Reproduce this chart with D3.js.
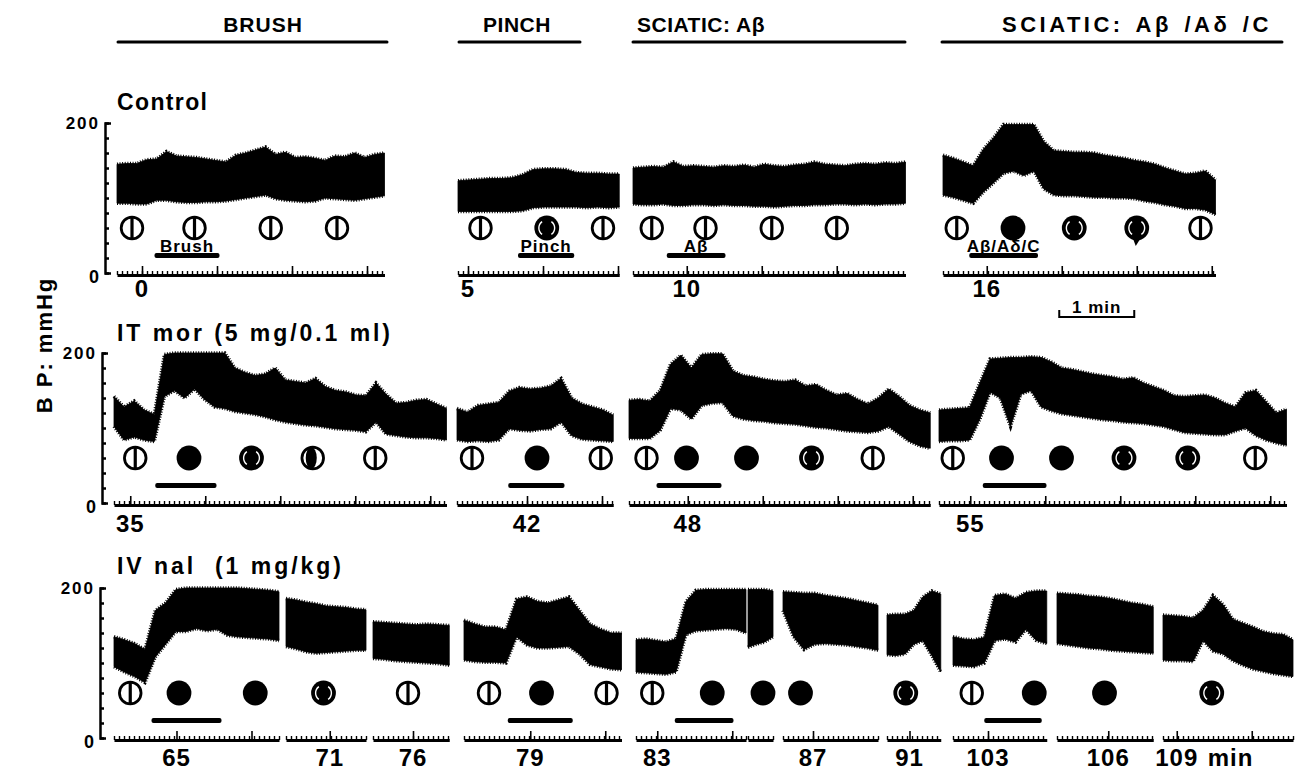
<!DOCTYPE html>
<html>
<head>
<meta charset="utf-8">
<script src="https://cdn.jsdelivr.net/npm/d3@7"></script>
<style>
  body { margin: 0; background: #fff; }
  text { font-family: "Liberation Sans", Arial, sans-serif; font-weight: bold; fill: #000; }
</style>
</head>
<body>
<div id="chart"></div>
<script>
// ---- data (BP in mmHg, times in s from segment start) ----
const sectionTitles = ["BRUSH", "PINCH", "SCIATIC: Aβ", "SCIATIC: Aβ /Aδ /C"];
const rowTitles = ["Control", "IT mor (5 mg/0.1 ml)", "IV nal  (1 mg/kg)"];
const yTickLabels = ["200", "0"];

// Control
const ctlBrushHi = [145,146,146,151,152,162,156,155,154,152,150,148,157,160,164,168,158,161,154,155,153,150,156,155,160,154,158,160];
const ctlBrushLo = [93,93,92,92,97,97,95,94,94,95,95,96,98,100,102,104,99,97,96,95,96,100,99,98,97,99,101,103];
const ctlPinchHi = [123,124,125,126,126,127,131,138,139,139,138,134,133,133,132,132];
const ctlPinchLo = [82,82,82,82,82,82,83,87,88,88,88,88,87,88,87,88];
const ctlAbHi = [140,141,142,141,148,142,143,142,141,143,142,144,141,145,143,142,144,145,148,145,144,143,145,146,145,147,146,148];
const ctlAbLo = [92,91,91,92,90,90,91,91,90,91,90,90,89,89,88,89,90,90,91,91,92,92,91,92,91,92,92,93];
const ctlAllHi = [157,153,148,143,165,180,198,198,198,198,175,163,162,161,161,160,157,155,153,150,148,145,140,136,132,133,136,124];
const ctlAllLo = [104,101,97,93,108,120,133,136,130,136,112,104,103,103,102,101,101,100,100,99,96,94,91,89,86,86,84,78];

// IT morphine
const morBrushHi = [142,128,136,124,118,198,200,200,200,200,200,200,180,174,170,172,180,164,162,160,166,155,150,148,144,143,160,145,133,134,137,138,132,126];
const morBrushLo = [102,84,88,84,82,142,150,140,152,138,128,126,122,120,118,115,111,108,106,104,103,101,99,98,97,95,108,92,90,88,87,87,86,84];
const morPinchHi = [126,121,130,132,134,149,154,152,153,156,166,140,132,128,124,117];
const morPinchLo = [84,82,83,82,84,99,97,96,98,99,108,90,85,84,83,82];
const morAbHi = [137,138,136,150,185,197,180,198,199,199,176,170,168,165,163,162,164,156,158,150,144,146,138,132,140,152,142,130,124,120];
const morAbLo = [86,86,86,97,126,124,112,130,133,134,116,112,110,109,107,106,105,103,101,100,98,96,95,94,96,102,92,82,76,73];
const morAllHi = [124,125,126,127,160,192,193,194,194,195,194,188,180,178,175,172,170,168,165,167,160,155,150,143,142,143,144,140,133,128,147,150,135,120,125];
const morAllLo = [82,83,83,84,112,148,140,102,145,150,128,123,119,117,115,113,111,110,108,107,106,104,102,98,94,93,92,91,91,96,100,90,84,80,77];

// IV naloxone
const nalBrushHi = [135,131,126,118,170,180,198,200,200,200,200,200,200,199,198,197,195];
const nalBrushLo = [95,88,82,74,108,125,142,142,146,143,145,137,135,134,133,132,130];
const nal71Hi = [186,184,181,179,176,175,174,172,171];
const nal71Lo = [122,119,115,113,114,115,116,117,117];
const nal76Hi = [155,154,153,152,151,152,151,150];
const nal76Lo = [106,105,103,102,101,100,99,97];
const nalPinchHi = [157,152,148,148,144,185,188,182,180,184,188,170,152,145,140,140];
const nalPinchLo = [104,102,101,101,100,135,124,120,120,121,122,112,98,95,92,91];
const nal83Hi = [131,132,130,128,132,182,197,198,198,198,198,198];
const nal83Lo = [88,87,86,85,88,138,143,144,145,146,145,140];
const nal83bHi = [198,198,198,196];
const nal83bLo = [121,125,128,135];
const nal87Hi = [195,194,193,193,190,188,186,183,180,177];
const nal87Lo = [170,135,118,125,126,125,124,122,120,117];
const nal91Hi = [164,165,165,170,188,196,192];
const nal91Lo = [111,110,112,125,130,110,88];
const nal103Hi = [135,132,131,134,190,192,186,194,196,196];
const nal103Lo = [97,96,95,100,130,132,128,145,130,126];
const nal106Hi = [193,192,191,189,188,186,183,180,178,175];
const nal106Lo = [126,124,122,120,119,117,116,115,114,113];
const nal109Hi = [164,163,162,160,170,190,178,158,153,148,142,139,138,131];
const nal109Lo = [104,103,103,102,130,116,112,103,97,92,89,86,84,82];

// pupil state at time t: o = constricted (slit), f = dilated, p = mostly dilated, h = half, t = mostly (tear)
const ctlBrushPupils = [[12,"o"],[62,"o"],[123,"o"],[176,"o"]];
const ctlPinchPupils = [[18,"o"],[71,"p"],[116,"o"]];
const ctlAbPupils = [[15,"o"],[58,"o"],[111,"o"],[163,"o"]];
const ctlAllPupils = [[11,"o"],[56,"f"],[105,"p"],[155,"t"],[206,"o"]];
const morBrushPupils = [[17,"o"],[60,"f"],[110,"p"],[159,"h"],[209,"o"]];
const morPinchPupils = [[12,"o"],[64,"f"],[115,"o"]];
const morAbPupils = [[14,"o"],[46,"f"],[94,"f"],[146,"p"],[195,"o"]];
const morAllPupils = [[11,"o"],[50,"f"],[98,"f"],[148,"p"],[199,"p"],[253,"o"]];
const nalBrushPupils = [[13,"o"],[52,"f"],[113,"f"]];
const nal71Pupils = [[30,"p"]];
const nal76Pupils = [[28,"o"]];
const nalPinchPupils = [[20,"o"],[62,"f"],[114,"o"]];
const nal83Pupils = [[13,"o"],[61,"f"]];
const nal83bPupils = [[12,"f"]];
const nal87Pupils = [[14,"f"]];
const nal91Pupils = [[15,"p"]];
const nal103Pupils = [[15,"o"],[65,"f"]];
const nal106Pupils = [[38,"f"]];
const nal109Pupils = [[39,"p"]];

// stimulus on/off (s)
const ctlBrushStim = [30, 82], ctlPinchStim = [48, 93], ctlAbStim = [27, 74], ctlAllStim = [21, 76];
const morBrushStim = [33, 82], morPinchStim = [41, 86], morAbStim = [22, 74], morAllStim = [35, 86];
const nalBrushStim = [30, 86], nalPinchStim = [35, 87], nal83Stim = [31, 78], nal103Stim = [25, 71];
const stimNames = ["Brush", "Pinch", "Aβ", "Aβ/Aδ/C"];

// elapsed-minute labels [t, text]
const minuteLabels = {
  ctlBrush: [20, "0"], ctlPinch: [8, "5"], ctlAb: [43, "10"], ctlAll: [35, "16"],
  morBrush: [13, "35"], morPinch: [56, "42"], morAb: [47, "48"], morAll: [25, "55"],
  nalBrush: [50, "65"], nal71: [35, "71"], nal76: [32, "76"], nalPinch: [53, "79"],
  nal83: [17, "83"], nal87: [24, "87"], nal91: [18, "91"], nal103: [28, "103"], nal106: [41, "106"], nal109: [11, "109"]
};

// ---- layout ----
const W = 1298, H = 770;
const PX_PER_S = 1.25;             // 75 px per minute
const rowBase = [273, 503, 738];   // y of 0 mmHg per row
const yAxisX = [105, 102, 100];
const labelBase = [297, 532, 766];

const segs = [
  {row:0, x0:117, dur:214, hi:ctlBrushHi, lo:ctlBrushLo, pupils:ctlBrushPupils, stim:ctlBrushStim, stimName:stimNames[0], lab:minuteLabels.ctlBrush},
  {row:0, x0:458, dur:129, hi:ctlPinchHi, lo:ctlPinchLo, pupils:ctlPinchPupils, stim:ctlPinchStim, stimName:stimNames[1], lab:minuteLabels.ctlPinch},
  {row:0, x0:633, dur:218, hi:ctlAbHi, lo:ctlAbLo, pupils:ctlAbPupils, stim:ctlAbStim, stimName:stimNames[2], lab:minuteLabels.ctlAb},
  {row:0, x0:943, dur:218, hi:ctlAllHi, lo:ctlAllLo, pupils:ctlAllPupils, stim:ctlAllStim, stimName:stimNames[3], lab:minuteLabels.ctlAll, scaleBar:93},
  {row:1, x0:114, dur:266, hi:morBrushHi, lo:morBrushLo, pupils:morBrushPupils, stim:morBrushStim, lab:minuteLabels.morBrush},
  {row:1, x0:457, dur:125, hi:morPinchHi, lo:morPinchLo, pupils:morPinchPupils, stim:morPinchStim, lab:minuteLabels.morPinch},
  {row:1, x0:629, dur:241, hi:morAbHi, lo:morAbLo, pupils:morAbPupils, stim:morAbStim, lab:minuteLabels.morAb},
  {row:1, x0:939, dur:278, hi:morAllHi, lo:morAllLo, pupils:morAllPupils, stim:morAllStim, lab:minuteLabels.morAll},
  {row:2, x0:114, dur:132, hi:nalBrushHi, lo:nalBrushLo, pupils:nalBrushPupils, stim:nalBrushStim, lab:minuteLabels.nalBrush},
  {row:2, x0:286, dur:64, hi:nal71Hi, lo:nal71Lo, pupils:nal71Pupils, lab:minuteLabels.nal71},
  {row:2, x0:373, dur:61, hi:nal76Hi, lo:nal76Lo, pupils:nal76Pupils, lab:minuteLabels.nal76},
  {row:2, x0:464, dur:126, hi:nalPinchHi, lo:nalPinchLo, pupils:nalPinchPupils, stim:nalPinchStim, lab:minuteLabels.nalPinch},
  {row:2, x0:636, dur:88, hi:nal83Hi, lo:nal83Lo, pupils:nal83Pupils, stim:nal83Stim, lab:minuteLabels.nal83},
  {row:2, x0:748, dur:20, hi:nal83bHi, lo:nal83bLo, pupils:nal83bPupils},
  {row:2, x0:783, dur:76, hi:nal87Hi, lo:nal87Lo, pupils:nal87Pupils, lab:minuteLabels.nal87},
  {row:2, x0:887, dur:43, hi:nal91Hi, lo:nal91Lo, pupils:nal91Pupils, lab:minuteLabels.nal91},
  {row:2, x0:953, dur:75, hi:nal103Hi, lo:nal103Lo, pupils:nal103Pupils, stim:nal103Stim, lab:minuteLabels.nal103},
  {row:2, x0:1057, dur:77, hi:nal106Hi, lo:nal106Lo, pupils:nal106Pupils, lab:minuteLabels.nal106},
  {row:2, x0:1163, dur:104, hi:nal109Hi, lo:nal109Lo, pupils:nal109Pupils, lab:minuteLabels.nal109, unit:"min"}
];

const headers = [
  {x0:118, x1:387, tx:263, anchor:"middle", size:21, ls:1, ws:0},
  {x0:459, x1:580, tx:517, anchor:"middle", size:21, ls:0.5, ws:0},
  {x0:633, x1:905, tx:637, anchor:"start", size:21, ls:0.5, ws:0},
  {x0:942, x1:1282, tx:1002, anchor:"start", size:22, ls:3.5, ws:3}
];

const svg = d3.select("#chart").append("svg")
  .attr("width", W).attr("height", H);

// section headers
headers.forEach((h, i) => {
  svg.append("text").attr("x", h.tx).attr("y", 32).attr("text-anchor", h.anchor)
    .style("font-size", h.size + "px").style("letter-spacing", h.ls + "px").style("word-spacing", h.ws + "px")
    .text(sectionTitles[i]);
  svg.append("line").attr("x1", h.x0).attr("x2", h.x1).attr("y1", 42).attr("y2", 42)
    .attr("stroke", "#000").attr("stroke-width", 3).attr("stroke-linecap", "round");
});

// y axis title
svg.append("text")
  .attr("transform", "translate(52,345) rotate(-90)")
  .attr("text-anchor", "middle")
  .style("font-size", "22px").style("letter-spacing", "2px")
  .text("B P: mmHg");

// per row: title + BP axis
const yScales = rowBase.map(b => d3.scaleLinear().domain([0, 200]).range([b, b - 150]));
const titleY = [110, 341, 574];
const titleLen = [90, 273, 224];
rowTitles.forEach((t, r) => {
  svg.append("text").attr("x", 117).attr("y", titleY[r])
    .attr("textLength", titleLen[r]).attr("lengthAdjust", "spacing")
    .style("font-size", "23px")
    .attr("xml:space", "preserve").text(t);

  const ax = svg.append("g").attr("transform", `translate(${yAxisX[r]},0)`)
    .call(d3.axisRight(yScales[r]).tickValues(d3.range(0, 201, 20)).tickSize(4).tickSizeOuter(6).tickFormat(""));
  ax.selectAll("path,line").attr("stroke", "#000").attr("stroke-width", 2.5);

  svg.append("text").attr("x", yAxisX[r] - 5).attr("y", yScales[r](200) + 6)
    .attr("text-anchor", "end").style("font-size", "17px").style("letter-spacing", "2px")
    .text(yTickLabels[0]);
  svg.append("text").attr("x", yAxisX[r] - 6).attr("y", yScales[r](0) + 10)
    .attr("text-anchor", "end").style("font-size", "18px")
    .text(yTickLabels[1]);
});

const whiteArc = d3.arc().innerRadius(7.2).outerRadius(8.6);

function drawPupil(g, cx, cy, type) {
  if (type === "o" || type === "h") {
    g.append("circle").attr("cx", cx).attr("cy", cy).attr("r", 10.8)
      .attr("fill", "#fff").attr("stroke", "#000").attr("stroke-width", 2.8);
    if (type === "h") {
      g.append("ellipse").attr("cx", cx - 1.5).attr("cy", cy).attr("rx", 5.5).attr("ry", 11).attr("fill", "#000");
    } else {
      g.append("line").attr("x1", cx).attr("x2", cx).attr("y1", cy - 11).attr("y2", cy + 11)
        .attr("stroke", "#000").attr("stroke-width", 3.2);
    }
  } else {
    g.append("circle").attr("cx", cx).attr("cy", cy).attr("r", 12.4).attr("fill", "#000");
    if (type === "p" || type === "t") {
      [[Math.PI * 0.2, Math.PI * 0.8], [Math.PI * 1.2, Math.PI * 1.8]].forEach(a => {
        g.append("path").attr("transform", `translate(${cx},${cy})`)
          .attr("d", whiteArc({startAngle: a[0], endAngle: a[1]})).attr("fill", "#fff");
      });
    }
    if (type === "t") {
      g.append("path").attr("d", `M${cx - 4},${cy + 10}L${cx + 4},${cy + 10}L${cx - 1},${cy + 18}Z`).attr("fill", "#000");
    }
  }
}

segs.forEach(s => {
  const y = yScales[s.row];
  const base = rowBase[s.row];
  const x = d3.scaleLinear().domain([0, s.dur]).range([s.x0, s.x0 + s.dur * PX_PER_S]);
  const n = s.hi.length;
  const tOf = i => i * s.dur / (n - 1);
  const g = svg.append("g");

  // BP trace envelope (systolic / diastolic band)
  const area = d3.area()
    .x((d, i) => x(tOf(i)))
    .y0((d, i) => y(s.lo[i]))
    .y1((d, i) => y(s.hi[i]));
  g.append("path").datum(s.hi).attr("d", area)
    .attr("fill", "#000").attr("stroke", "#000").attr("stroke-width", 0.8);
  // ragged pen edge along systolic / diastolic envelopes
  [s.hi, s.lo].forEach(arr => {
    g.append("path").datum(arr)
      .attr("d", d3.line().x((d, i) => x(tOf(i))).y(d => y(d)))
      .attr("fill", "none").attr("stroke", "#000").attr("stroke-width", 3.5)
      .attr("stroke-dasharray", "1 1.6");
  });

  // pupil symbols
  s.pupils.forEach(p => drawPupil(g, x(p[0]), base - 45, p[1]));

  // stimulus bar
  if (s.stim) {
    g.append("rect").attr("x", x(s.stim[0])).attr("y", base - 20)
      .attr("width", x(s.stim[1]) - x(s.stim[0])).attr("height", 5).attr("rx", 2).attr("fill", "#000");
    if (s.stimName) {
      g.append("text").attr("x", (x(s.stim[0]) + x(s.stim[1])) / 2).attr("y", base - 21)
        .attr("text-anchor", "middle").style("font-size", "17px").style("letter-spacing", "1px")
        .text(s.stimName);
    }
  }

  // time base: 4 s marks, 1 min marks
  const minor = d3.range(0, s.dur + 0.01, 4);
  const ax = g.append("g").attr("transform", `translate(0,${base + 2})`)
    .call(d3.axisTop(x).tickValues(minor).tickSize(4).tickSizeOuter(0).tickFormat(""));
  ax.select(".domain").attr("stroke", "#000").attr("stroke-width", 3);
  ax.selectAll(".tick line").attr("stroke", "#000").attr("stroke-width", 1.4);
  if (s.lab) {
    const major = d3.range(s.lab[0] % 60, s.dur + 0.01, 60);
    const ax2 = g.append("g").attr("transform", `translate(0,${base + 2})`)
      .call(d3.axisTop(x).tickValues(major).tickSize(9).tickSizeOuter(0).tickFormat(""));
    ax2.select(".domain").remove();
    ax2.selectAll(".tick line").attr("stroke", "#000").attr("stroke-width", 1.6);

    g.append("text").attr("x", x(s.lab[0])).attr("y", labelBase[s.row])
      .attr("text-anchor", "middle").style("font-size", "24px").style("letter-spacing", "1px")
      .text(s.lab[1]);
    if (s.unit) {
      g.append("text").attr("x", x(s.lab[0]) + 31).attr("y", labelBase[s.row])
        .style("font-size", "24px").style("letter-spacing", "1px").text(s.unit);
    }
  }

  // 1 min calibration bar
  if (s.scaleBar !== undefined) {
    const a = x(s.scaleBar), b = x(s.scaleBar + 60), yb = base + 44;
    g.append("path").attr("d", `M${a},${yb - 7}V${yb}H${b}V${yb - 7}`)
      .attr("fill", "none").attr("stroke", "#000").attr("stroke-width", 2);
    g.append("text").attr("x", (a + b) / 2).attr("y", yb - 4).attr("text-anchor", "middle")
      .style("font-size", "17px").style("letter-spacing", "1px").text("1 min");
  }
});
</script>
</body>
</html>
